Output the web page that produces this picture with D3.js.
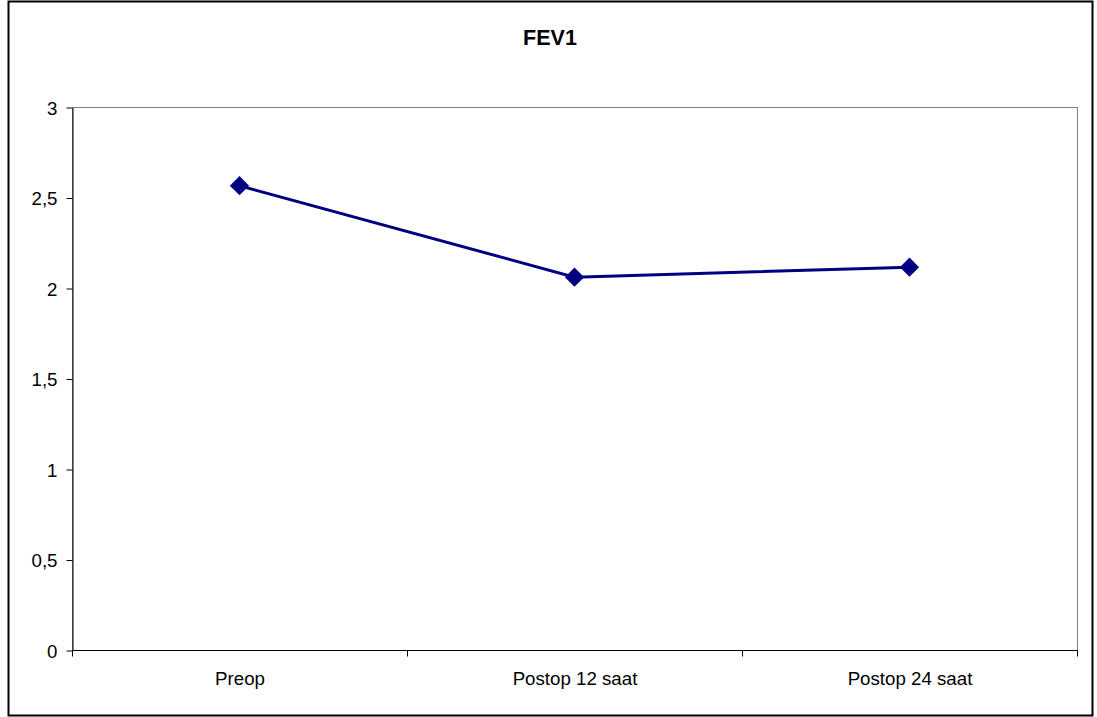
<!DOCTYPE html>
<html>
<head>
<meta charset="utf-8">
<script src="https://cdn.jsdelivr.net/npm/d3@7"></script>
<style>
  html, body { margin: 0; padding: 0; background: #fff; }
  svg text { font-family: "Liberation Sans", Arial, sans-serif; fill: #000; }
</style>
</head>
<body>
<svg id="chart" width="1097" height="717"></svg>
<script>
// FEV1 measurements over time
const categories = ["Preop", "Postop 12 saat", "Postop 24 saat"];
const fev1Values = [2.565, 2.06, 2.115];
const yTicks = [0, 0.5, 1, 1.5, 2, 2.5, 3];
const chartTitle = "FEV1";

const svg = d3.select("#chart");
const plot = { left: 72, right: 1077, top: 107, bottom: 650 };
const labelFont = "18.7px";

// outer frame
svg.append("rect")
  .attr("x", 8.5).attr("y", 1.5)
  .attr("width", 1084).attr("height", 714)
  .attr("fill", "#fff").attr("stroke", "#000").attr("stroke-width", 2);

// plot area frame (gray top/right)
svg.append("rect")
  .attr("x", plot.left + 0.5).attr("y", plot.top + 0.5)
  .attr("width", plot.right - plot.left).attr("height", plot.bottom - plot.top)
  .attr("fill", "#fff").attr("stroke", "#808080").attr("stroke-width", 1);

const x = d3.scaleBand().domain(categories).range([plot.left, plot.right]).padding(0);
const y = d3.scaleLinear().domain([0, 3]).range([plot.bottom, plot.top]);

// y axis
const yAxis = svg.append("g")
  .attr("transform", `translate(${plot.left + 0.5},0.5)`)
  .call(d3.axisLeft(y).tickValues(yTicks).tickSize(6).tickSizeOuter(0)
    .tickFormat(d => String(d).replace(".", ",")));
yAxis.select(".domain").attr("stroke", "#000");
yAxis.selectAll(".tick line").attr("stroke", "#000");
yAxis.selectAll(".tick text")
  .attr("x", -15).attr("dy", "0.35em")
  .style("font-size", labelFont).style("font-family", "'Liberation Sans', Arial, sans-serif");

// x axis with ticks at category boundaries
const xAxisG = svg.append("g").attr("transform", `translate(0.5,${plot.bottom + 0.5})`);
xAxisG.append("line")
  .attr("x1", plot.left).attr("x2", plot.right)
  .attr("stroke", "#000");
const boundaries = categories.map(c => x(c)).concat([plot.right]);
xAxisG.selectAll("line.tk").data(boundaries).enter().append("line")
  .attr("class", "tk")
  .attr("x1", d => d).attr("x2", d => d)
  .attr("y1", 0).attr("y2", 6)
  .attr("stroke", "#000");
xAxisG.selectAll("text").data(categories).enter().append("text")
  .attr("x", d => x(d) + x.bandwidth() / 2)
  .attr("y", 34)
  .attr("text-anchor", "middle")
  .style("font-size", labelFont)
  .text(d => d);

// line
const line = d3.line()
  .x((d, i) => x(categories[i]) + x.bandwidth() / 2)
  .y(d => y(d));
svg.append("path")
  .datum(fev1Values)
  .attr("d", line)
  .attr("fill", "none")
  .attr("stroke", "#000080")
  .attr("stroke-width", 3);

// diamond markers
const diamond = d3.symbol().type(d3.symbolSquare).size(185);
svg.selectAll("path.marker").data(fev1Values).enter().append("path")
  .attr("class", "marker")
  .attr("d", diamond)
  .attr("transform", (d, i) => `translate(${x(categories[i]) + x.bandwidth() / 2},${y(d)}) rotate(45)`)
  .attr("fill", "#000080");

// title
svg.append("text")
  .attr("x", 550).attr("y", 45)
  .attr("text-anchor", "middle")
  .style("font-size", "21.5px").style("font-weight", "bold")
  .text(chartTitle);
</script>
</body>
</html>
